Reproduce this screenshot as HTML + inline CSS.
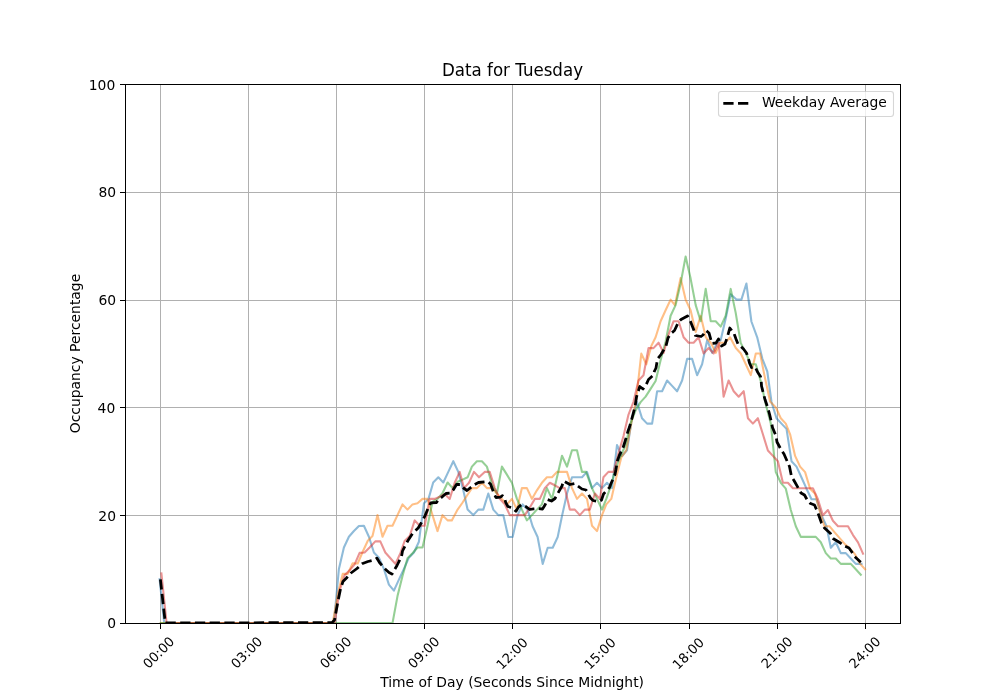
<!DOCTYPE html>
<html><head><meta charset="utf-8"><title>Data for Tuesday</title>
<style>html,body{margin:0;padding:0;background:#fff;overflow:hidden}svg{display:block}</style></head>
<body>
<svg width="1000" height="700" viewBox="0 0 1000 700">
<rect x="0" y="0" width="1000" height="700" fill="#ffffff"/>
<clipPath id="ax"><rect x="125" y="84" width="776" height="540"/></clipPath>
<g fill="none" stroke="#b0b0b0" stroke-width="1" shape-rendering="crispEdges">
<path d="M 160.5 623.5 L 160.5 84.5"/>
<path d="M 248.5 623.5 L 248.5 84.5"/>
<path d="M 336.5 623.5 L 336.5 84.5"/>
<path d="M 424.5 623.5 L 424.5 84.5"/>
<path d="M 512.5 623.5 L 512.5 84.5"/>
<path d="M 600.5 623.5 L 600.5 84.5"/>
<path d="M 689.5 623.5 L 689.5 84.5"/>
<path d="M 777.5 623.5 L 777.5 84.5"/>
<path d="M 865.5 623.5 L 865.5 84.5"/>
<path d="M 125.5 623.5 L 900.5 623.5"/>
<path d="M 125.5 515.5 L 900.5 515.5"/>
<path d="M 125.5 407.5 L 900.5 407.5"/>
<path d="M 125.5 300.5 L 900.5 300.5"/>
<path d="M 125.5 192.5 L 900.5 192.5"/>
<path d="M 125.5 84.5 L 900.5 84.5"/>
</g>
<g fill="none" stroke="#000000" stroke-width="1" shape-rendering="crispEdges">
<path d="M 160.5 624 L 160.5 629"/>
<path d="M 248.5 624 L 248.5 629"/>
<path d="M 336.5 624 L 336.5 629"/>
<path d="M 424.5 624 L 424.5 629"/>
<path d="M 512.5 624 L 512.5 629"/>
<path d="M 600.5 624 L 600.5 629"/>
<path d="M 689.5 624 L 689.5 629"/>
<path d="M 777.5 624 L 777.5 629"/>
<path d="M 865.5 624 L 865.5 629"/>
<path d="M 125 623.5 L 120 623.5"/>
<path d="M 125 515.5 L 120 515.5"/>
<path d="M 125 407.5 L 120 407.5"/>
<path d="M 125 300.5 L 120 300.5"/>
<path d="M 125 192.5 L 120 192.5"/>
<path d="M 125 84.5 L 120 84.5"/>
</g>
<g style="font-size:13.889px;font-family:'DejaVu Sans','Liberation Sans',sans-serif" fill="#000000">
<text transform="translate(148.410 669.287) rotate(-45)" style="font-size:13.2px">00:00</text>
<text transform="translate(236.410 669.287) rotate(-45)" style="font-size:13.2px">03:00</text>
<text transform="translate(325.550 669.287) rotate(-45)" style="font-size:13.2px">06:00</text>
<text transform="translate(413.550 669.287) rotate(-45)" style="font-size:13.2px">09:00</text>
<text transform="translate(501.810 670.147) rotate(-45)" style="font-size:13.2px">12:00</text>
<text transform="translate(589.810 670.147) rotate(-45)" style="font-size:13.2px">15:00</text>
<text transform="translate(678.010 670.147) rotate(-45)" style="font-size:13.2px">18:00</text>
<text transform="translate(766.670 669.287) rotate(-45)" style="font-size:13.2px">21:00</text>
<text transform="translate(854.550 669.287) rotate(-45)" style="font-size:13.2px">24:00</text>
<text x="116.080" y="628.277" text-anchor="end">0</text>
<text x="115.980" y="521.477" text-anchor="end">20</text>
<text x="115.280" y="412.677" text-anchor="end">40</text>
<text x="116.080" y="304.877" text-anchor="end">60</text>
<text x="116.080" y="197.077" text-anchor="end">80</text>
<text x="115.280" y="90.277" text-anchor="end">100</text>
<text x="512.100" y="686.640" text-anchor="middle">Time of Day (Seconds Since Midnight)</text>
<text x="80.320" y="353.500" text-anchor="middle" transform="rotate(-90 80.320 353.500)">Occupancy Percentage</text>
</g>
<g clip-path="url(#ax)" fill="none" stroke-linejoin="round">
<path d="M 159.6 579.3 L 164.2 623.0 L 333.9 623.1 L 338.9 568.9 L 343.9 547.5 L 348.9 536.7 L 353.9 531.0 L 358.9 526.0 L 363.9 525.8 L 368.9 536.7 L 373.9 552.5 L 378.9 557.7 L 383.9 568.9 L 388.9 584.6 L 393.9 590.6 L 398.9 579.6 L 403.9 568.9 L 408.9 557.7 L 413.9 552.5 L 418.9 541.7 L 424.0 503.2 L 428.5 498.9 L 433.2 482.5 L 438.3 477.3 L 443.3 482.5 L 448.3 471.9 L 453.3 461.2 L 458.3 471.9 L 463.3 490.3 L 467.6 509.6 L 473.3 515.1 L 478.3 509.6 L 483.3 509.6 L 488.3 493.5 L 493.3 509.6 L 498.3 515.1 L 503.3 515.1 L 508.3 537.0 L 512.6 537.0 L 517.6 515.1 L 522.6 504.4 L 527.6 509.6 L 532.6 526.2 L 537.6 537.0 L 542.7 563.9 L 547.7 547.7 L 552.7 547.7 L 557.7 537.0 L 562.0 516.0 L 567.0 493.5 L 572.0 477.3 L 577.0 477.3 L 582.0 477.3 L 587.0 471.9 L 592.0 488.1 L 597.0 482.8 L 602.0 488.1 L 607.0 482.8 L 612.0 488.1 L 617.0 445.0 L 622.0 456.0 L 627.0 450.3 L 632.0 418.2 L 637.0 402.1 L 642.0 418.2 L 647.1 423.6 L 652.1 423.6 L 657.1 391.3 L 662.1 391.3 L 667.1 380.5 L 672.1 385.9 L 677.1 391.3 L 682.1 380.5 L 687.1 358.9 L 692.1 358.9 L 697.1 375.2 L 702.1 364.3 L 707.2 340.0 L 712.2 352.9 L 717.2 342.9 L 720.7 340.1 L 725.7 318.6 L 730.7 294.2 L 736.4 299.6 L 741.4 299.6 L 746.4 283.5 L 751.4 321.5 L 757.2 337.3 L 762.3 358.6 L 767.3 371.5 L 771.5 402.0 L 776.5 418.2 L 781.5 423.6 L 786.5 428.9 L 791.5 461.2 L 796.5 466.6 L 801.5 477.5 L 806.5 488.7 L 811.5 499.2 L 816.5 499.2 L 821.5 515.3 L 826.5 526.2 L 830.8 547.8 L 835.8 542.3 L 840.8 553.1 L 845.8 553.1 L 850.8 558.5 L 855.8 563.9 L 861.5 563.9" stroke="#1f77b4" stroke-opacity="0.5" stroke-width="2.083" stroke-linecap="square"/>
<path d="M 160.8 623.0 L 332.7 623.1 L 337.7 594.6 L 342.7 573.9 L 347.7 573.9 L 352.7 563.3 L 357.7 563.5 L 362.8 551.5 L 367.8 540.7 L 372.5 536.1 L 377.5 515.1 L 382.5 536.8 L 387.5 525.8 L 392.5 525.8 L 397.5 515.1 L 402.5 504.4 L 407.5 509.6 L 412.5 504.4 L 417.5 503.2 L 422.5 498.9 L 427.5 498.9 L 432.5 515.1 L 437.5 531.1 L 442.5 515.1 L 447.6 520.4 L 451.8 520.4 L 457.6 509.6 L 462.6 502.5 L 467.2 495.3 L 471.9 488.1 L 476.9 488.1 L 481.9 482.8 L 486.9 488.1 L 491.9 488.1 L 496.9 493.5 L 501.9 498.9 L 506.9 504.4 L 511.9 498.9 L 516.9 509.6 L 521.9 488.1 L 526.9 488.1 L 531.9 498.9 L 536.9 490.3 L 541.9 482.8 L 546.9 477.3 L 552.0 477.3 L 557.0 471.9 L 562.0 471.9 L 567.0 471.9 L 572.0 488.1 L 577.0 498.9 L 582.0 493.5 L 587.0 498.9 L 592.0 525.8 L 597.0 531.1 L 602.0 515.1 L 606.3 504.4 L 611.3 498.9 L 616.3 477.3 L 621.3 457.4 L 626.3 450.3 L 631.3 423.2 L 636.3 398.9 L 641.3 353.6 L 646.3 364.3 L 651.3 346.0 L 655.6 337.2 L 660.6 321.2 L 665.6 310.3 L 670.6 299.6 L 674.9 305.1 L 680.6 278.0 L 685.6 299.6 L 690.6 310.3 L 695.7 331.9 L 700.7 315.8 L 705.8 337.3 L 710.8 342.7 L 715.8 352.9 L 720.1 342.7 L 725.1 342.7 L 730.1 337.3 L 735.8 348.0 L 740.8 353.5 L 745.8 364.3 L 750.8 375.1 L 755.8 353.5 L 760.1 353.5 L 764.4 375.1 L 770.1 401.5 L 775.8 407.4 L 780.8 418.2 L 785.8 423.6 L 790.1 434.3 L 795.1 455.9 L 800.1 466.6 L 805.1 472.1 L 810.1 488.7 L 815.1 493.9 L 819.4 510.0 L 824.4 526.2 L 829.4 526.2 L 835.1 532.9 L 840.1 538.6 L 845.1 544.4 L 850.1 548.6 L 855.1 554.4 L 860.1 563.9 L 865.1 569.2" stroke="#ff7f0e" stroke-opacity="0.5" stroke-width="2.083" stroke-linecap="square"/>
<path d="M 160.8 623.0 L 392.5 623.1 L 397.5 596.1 L 402.5 576.0 L 407.5 558.2 L 412.5 553.2 L 417.5 547.5 L 422.5 547.5 L 427.5 526.1 L 432.5 501.8 L 437.5 498.9 L 442.5 493.2 L 447.6 482.5 L 452.6 488.1 L 457.6 481.8 L 462.6 479.6 L 467.6 477.3 L 471.9 466.6 L 476.9 461.2 L 481.9 461.2 L 486.9 466.6 L 491.9 483.9 L 496.9 493.5 L 501.9 466.6 L 506.9 474.6 L 511.9 482.8 L 516.9 498.9 L 521.9 509.6 L 526.9 520.4 L 531.9 515.1 L 536.9 509.6 L 541.9 504.4 L 546.9 488.1 L 552.0 498.9 L 557.0 477.3 L 562.0 455.7 L 567.0 466.6 L 572.0 450.3 L 577.0 450.3 L 582.0 471.9 L 586.0 471.9 L 592.0 488.1 L 597.0 498.9 L 602.0 509.6 L 606.3 498.9 L 611.3 484.6 L 615.6 468.2 L 620.6 456.0 L 625.6 445.0 L 630.6 423.2 L 635.6 410.4 L 640.6 402.1 L 645.6 396.6 L 650.6 388.9 L 655.6 381.0 L 660.6 360.3 L 665.6 341.7 L 670.6 315.8 L 675.6 305.1 L 680.6 283.5 L 685.6 256.6 L 690.6 278.6 L 695.7 305.1 L 700.7 321.2 L 705.7 288.9 L 710.7 321.2 L 715.7 321.2 L 720.7 326.6 L 725.7 315.8 L 730.7 288.9 L 735.7 312.9 L 740.7 342.9 L 745.8 352.9 L 750.8 364.3 L 755.8 364.3 L 760.8 381.5 L 765.8 404.4 L 770.8 423.6 L 775.8 472.1 L 780.8 482.8 L 785.8 488.7 L 790.8 510.0 L 795.8 526.2 L 800.8 536.9 L 805.8 536.9 L 810.8 536.9 L 815.8 536.9 L 820.8 542.3 L 825.8 553.1 L 830.8 558.5 L 835.8 558.5 L 840.8 563.9 L 845.8 563.9 L 850.8 563.9 L 855.8 569.2 L 860.8 574.7" stroke="#2ca02c" stroke-opacity="0.5" stroke-width="2.083" stroke-linecap="square"/>
<path d="M 161.4 573.4 L 166.6 623.0 L 334.6 623.1 L 339.6 590.4 L 344.6 575.3 L 349.6 570.3 L 354.6 564.3 L 359.6 552.9 L 364.6 552.5 L 369.6 547.5 L 375.3 541.4 L 380.3 541.4 L 385.3 552.5 L 390.4 558.2 L 395.4 563.9 L 400.4 553.2 L 404.6 541.0 L 409.7 536.0 L 414.7 520.4 L 419.7 525.8 L 424.7 525.8 L 429.7 498.9 L 434.7 498.9 L 439.7 496.8 L 444.7 493.9 L 449.7 498.9 L 454.7 482.8 L 459.7 471.9 L 464.0 488.1 L 469.0 482.8 L 474.0 471.9 L 479.0 477.3 L 484.7 471.9 L 489.7 471.9 L 494.8 488.1 L 499.8 498.9 L 504.8 504.4 L 509.8 515.1 L 514.8 515.1 L 519.8 515.1 L 524.8 515.1 L 529.8 507.5 L 534.8 498.9 L 539.8 498.9 L 544.8 488.1 L 549.8 482.8 L 554.8 485.3 L 559.8 488.1 L 564.8 488.1 L 569.8 509.6 L 574.8 509.6 L 579.8 515.1 L 584.8 509.6 L 589.8 509.6 L 594.9 493.5 L 599.9 498.9 L 603.4 477.3 L 608.4 471.9 L 613.5 471.9 L 618.5 453.2 L 623.5 436.0 L 628.5 414.6 L 633.5 401.8 L 638.5 380.5 L 643.5 375.2 L 648.5 348.1 L 653.5 348.1 L 658.6 342.7 L 663.6 352.9 L 668.6 334.3 L 673.6 321.2 L 678.6 321.2 L 683.6 337.3 L 688.6 342.7 L 693.6 342.7 L 698.6 337.3 L 703.6 353.5 L 708.6 348.0 L 713.6 353.5 L 718.6 342.7 L 723.6 396.7 L 728.6 380.5 L 733.7 391.2 L 738.7 396.7 L 743.7 391.2 L 747.9 418.2 L 752.9 423.6 L 757.9 418.2 L 762.9 434.3 L 767.9 450.5 L 772.9 455.9 L 777.9 461.2 L 782.9 482.8 L 787.9 482.8 L 792.9 488.2 L 797.9 488.2 L 802.9 488.2 L 807.9 488.2 L 812.9 488.2 L 817.9 499.2 L 822.9 515.3 L 827.9 510.0 L 832.9 520.8 L 838.0 526.2 L 843.0 526.2 L 848.0 526.2 L 853.0 535.1 L 858.0 542.3 L 863.0 553.6" stroke="#d62728" stroke-opacity="0.5" stroke-width="2.083" stroke-linecap="square"/>
<path d="M 160.4 579.3 L 165.3 623.0 L 332.0 622.6 L 334.5 620.0 L 336.0 612.0 L 338.0 601.0 L 340.5 589.0 L 343.0 581.5 L 346.5 578.0 L 351.0 573.0 L 357.0 568.5 L 362.0 563.8 L 368.0 561.5 L 374.0 560.0 L 377.0 558.2 L 379.5 562.5 L 384.0 568.0 L 389.0 572.5 L 392.0 574.0 L 397.0 565.5 L 401.5 556.5 L 402.5 551.0 L 405.0 546.0 L 408.0 540.5 L 412.5 533.5 L 418.2 528.0 L 421.5 522.5 L 425.0 515.8 L 428.0 508.5 L 430.8 502.8 L 436.5 502.5 L 438.2 500.0 L 442.0 497.0 L 446.0 493.5 L 450.5 493.0 L 453.5 489.5 L 456.5 484.5 L 460.0 484.5 L 463.5 488.0 L 467.0 490.5 L 474.0 485.0 L 478.5 482.5 L 487.5 481.5 L 490.5 484.0 L 493.8 493.0 L 495.9 497.5 L 500.4 497.2 L 502.5 495.7 L 504.3 497.5 L 505.8 502.6 L 507.9 506.5 L 512.7 508.0 L 516.0 511.3 L 518.4 507.1 L 521.4 504.7 L 526.2 506.8 L 529.8 509.5 L 533.4 508.9 L 538.5 508.5 L 542.5 509.0 L 545.0 505.0 L 547.5 499.5 L 551.5 501.0 L 555.0 498.5 L 557.5 494.0 L 562.0 486.0 L 563.5 481.0 L 570.0 484.5 L 574.5 483.5 L 582.0 489.0 L 586.0 490.0 L 590.5 498.0 L 593.0 500.5 L 599.0 501.5 L 601.5 500.0 L 603.5 494.0 L 609.5 487.5 L 611.0 483.5 L 615.0 474.5 L 616.0 469.5 L 617.5 460.5 L 619.5 455.0 L 622.8 448.5 L 625.5 440.0 L 628.0 431.0 L 629.5 427.0 L 632.0 418.0 L 635.0 407.0 L 636.5 397.0 L 638.0 392.0 L 639.8 386.5 L 643.0 389.0 L 646.0 385.0 L 648.5 379.5 L 653.0 375.5 L 654.5 371.0 L 656.0 368.0 L 657.5 359.0 L 661.0 354.5 L 666.0 346.0 L 668.0 338.0 L 671.0 333.5 L 674.5 330.5 L 678.5 322.0 L 681.0 319.5 L 687.5 316.0 L 690.5 321.5 L 694.0 330.5 L 695.5 335.5 L 701.0 336.5 L 703.0 335.0 L 706.0 330.5 L 709.0 333.0 L 712.0 343.5 L 716.0 343.0 L 718.5 339.0 L 721.5 346.0 L 725.0 344.0 L 727.5 336.5 L 729.8 328.0 L 734.0 333.5 L 736.0 339.0 L 738.0 344.0 L 741.0 346.5 L 743.5 349.0 L 746.5 353.0 L 748.0 357.0 L 749.5 363.0 L 751.5 367.5 L 755.0 366.5 L 757.5 372.0 L 760.5 376.5 L 761.2 381.0 L 761.5 386.0 L 763.5 394.0 L 765.0 399.5 L 768.0 408.5 L 769.5 414.0 L 771.5 422.5 L 772.5 427.5 L 776.0 436.0 L 777.0 442.0 L 781.0 449.5 L 784.0 454.0 L 787.5 462.0 L 789.5 466.5 L 791.5 476.5 L 794.0 480.5 L 798.5 488.5 L 801.0 493.0 L 804.5 495.0 L 807.0 499.5 L 810.5 503.5 L 814.5 505.0 L 816.5 509.5 L 818.5 514.5 L 821.5 523.0 L 824.5 528.0 L 830.5 533.5 L 833.0 538.5 L 840.5 543.0 L 844.5 546.0 L 849.0 548.0 L 851.5 551.5 L 854.5 556.5 L 860.8 562.3" stroke="#000000" stroke-width="2.778" stroke-dasharray="10.28,4.44"/>
</g>
<g fill="none" stroke="#000000" stroke-width="1" shape-rendering="crispEdges">
<path d="M 125.5 624 L 125.5 84"/><path d="M 900.5 624 L 900.5 84"/><path d="M 125 623.5 L 901 623.5"/><path d="M 125 84.5 L 901 84.5"/>
</g>
<text transform="translate(512.500 76.067) scale(1 1.08)" text-anchor="middle" style="font-size:16.667px;font-family:'DejaVu Sans','Liberation Sans',sans-serif" fill="#000000">Data for Tuesday</text>
<path d="M 721.28 116.5 L 890.72 116.5 Q 893.5 116.5 893.5 113.72 L 893.5 94.28 Q 893.5 91.5 890.72 91.5 L 721.28 91.5 Q 718.5 91.5 718.5 94.28 L 718.5 113.72 Q 718.5 116.5 721.28 116.5 z" fill="#ffffff" stroke="#cccccc" stroke-width="1.1" opacity="0.8"/>
<path d="M 723.3 103.3 L 751.1 103.3" fill="none" stroke="#000000" stroke-width="2.778" stroke-dasharray="10.28,4.44"/>
<text x="761.950" y="107.050" style="font-size:13.889px;font-family:'DejaVu Sans','Liberation Sans',sans-serif" fill="#000000">Weekday Average</text>
</svg>
</body></html>
